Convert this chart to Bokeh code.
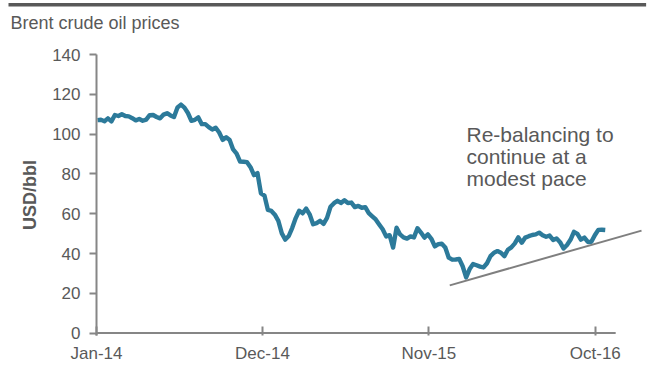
import pandas as pd
from bokeh.plotting import figure
from bokeh.models import Label, FixedTicker, Range1d, Title
from bokeh.embed import file_html
from bokeh.resources import INLINE

# ---------------- data ----------------
START = "2014-01-03"  # first weekly (Friday) observation
brent_2014 = [107.0, 107.2, 106.5, 107.9, 106.4, 109.6, 109.1, 110.0, 109.1, 108.9,
              108.0, 106.9, 107.6, 106.7, 107.3, 109.5, 109.6, 108.6, 107.9, 109.8,
              110.5, 109.4, 108.6, 113.4, 114.8, 113.3, 110.6, 106.7, 107.2, 108.4,
              105.0, 105.0, 103.5, 102.3, 103.2, 100.8, 97.1, 98.4, 97.0, 92.3,
              90.2, 86.2, 86.1, 85.9, 83.4, 79.4, 80.4, 70.2, 69.1, 61.9,
              61.4, 59.5]
brent_2015 = [56.4, 50.1, 47.0, 48.8, 52.9, 57.8, 61.5, 60.2, 62.6, 59.7,
              54.7, 55.3, 56.4, 54.9, 57.9, 63.5, 65.3, 66.5, 65.4, 66.8,
              65.4, 65.6, 63.3, 63.9, 63.0, 63.3, 60.3, 58.7, 57.1, 54.6,
              52.2, 48.6, 49.2, 43.0, 53.0, 49.6, 48.1, 47.5, 48.6, 48.1,
              52.7, 50.5, 48.0, 49.6, 47.4, 43.6, 44.7, 44.9, 43.0, 37.9,
              36.9, 37.0]
brent_2016 = [37.3, 33.6, 28.0, 32.2, 34.7, 34.1, 33.4, 33.0, 35.1, 38.7,
              40.4, 41.2, 40.4, 38.7, 41.9, 43.1, 45.1, 48.1, 45.4, 48.0,
              48.7, 49.3, 49.6, 50.5, 49.2, 48.4, 49.0, 46.8, 47.6, 45.7,
              42.5, 44.3, 46.9, 50.9, 49.9, 47.0, 48.0, 45.8, 45.9, 49.2,
              51.9, 51.95, 51.8]
prices = brent_2014 + brent_2015 + brent_2016

tick_dates = ["2014-01-01", "2014-12-01", "2015-11-01", "2016-10-01"]
tick_labels = ["Jan-14", "Dec-14", "Nov-15", "Oct-16"]
y_ticks = [0, 20, 40, 60, 80, 100, 120, 140]

trend_dates = ["2015-12-13", "2017-01-02"]
trend_values = [24.0, 51.5]

annotation_lines = ["Re-balancing to", "continue at a", "modest pace"]
title_text = "Brent crude oil prices"
y_label = "USD/bbl"

# ---------------- helpers ----------------
ORIGIN = pd.Timestamp("2014-01-01")
AXIS_END = "2016-11-11"
VIEW_END = "2017-01-10"


def to_days(d):
    return (pd.Timestamp(d) - ORIGIN).days


dates = pd.date_range(START, periods=len(prices), freq="W-FRI")
xs = [(d - ORIGIN).days for d in dates]
tick_x = [to_days(d) for d in tick_dates]

TEXT = "#595959"
AXIS = "#868686"
BLUE = "#2C7A9A"
FONT = "Liberation Sans"

p = figure(width=649, height=365, output_backend="svg", toolbar_location=None,
           title=None,
           x_range=Range1d(0, to_days(VIEW_END)), y_range=Range1d(-1.2, 140),
           min_border_left=96, min_border_right=4, min_border_top=0,
           min_border_bottom=30)
p.outline_line_color = None
p.grid.grid_line_color = None
p.background_fill_color = "white"
p.border_fill_color = "white"

# x axis baseline (ends before the frame edge, like the original)
p.line([0, to_days(AXIS_END)], [0, 0], line_color=AXIS, line_width=2)

p.line(xs, prices, line_color=BLUE, line_width=4.4, line_join="round")

# trend line
p.line([to_days(d) for d in trend_dates], trend_values, line_color="#7F7F7F",
       line_width=2)

# axes
xa = p.xaxis[0]
xa.ticker = FixedTicker(ticks=tick_x)
xa.major_label_overrides = {t: l for t, l in zip(tick_x, tick_labels)}
xa.minor_tick_line_color = None
xa.major_tick_in = 9
xa.major_tick_out = 0
xa.axis_line_color = None
xa.major_tick_line_color = AXIS
xa.major_tick_line_width = 2
xa.major_label_text_color = TEXT
xa.major_label_text_font = FONT
xa.major_label_text_font_size = "17px"
xa.major_label_standoff = 8

ya = p.yaxis[0]
ya.ticker = FixedTicker(ticks=y_ticks)
ya.minor_tick_line_color = None
ya.major_tick_in = 0
ya.major_tick_out = 7
ya.axis_line_color = AXIS
ya.axis_line_width = 2
ya.major_tick_line_color = AXIS
ya.major_tick_line_width = 2
ya.major_label_text_color = TEXT
ya.major_label_text_font = FONT
ya.major_label_text_font_size = "17px"
ya.major_label_standoff = 9
ya.axis_label = y_label
ya.axis_label_text_font = FONT
ya.axis_label_text_font_style = "bold"
ya.axis_label_text_font_size = "18px"
ya.axis_label_text_color = TEXT
ya.axis_label_standoff = 9

# above panel stack (first = nearest the frame): spacer, title, top rule
p.add_layout(Title(text="\u00a0", standoff=5, text_font=FONT, text_font_size="10px"),
             "above")
p.add_layout(Title(text=title_text, align="left", offset=-86, standoff=8,
                   text_font=FONT, text_font_size="18px", text_font_style="normal",
                   text_color=TEXT), "above")
p.add_layout(Title(text="\u00a0" * 720, align="left", offset=-88, standoff=0,
                   text_font=FONT, text_font_size="3.2px",
                   background_fill_color="#595959", background_fill_alpha=1),
             "above")

for i, line in enumerate(annotation_lines):
    p.add_layout(Label(x=370, y=201 - 22 * i, x_units="screen", y_units="screen",
                       text=line, text_font=FONT, text_font_size="21px",
                       text_color=TEXT, text_baseline="middle"))

open("out.html", "w").write(file_html(p, INLINE))
